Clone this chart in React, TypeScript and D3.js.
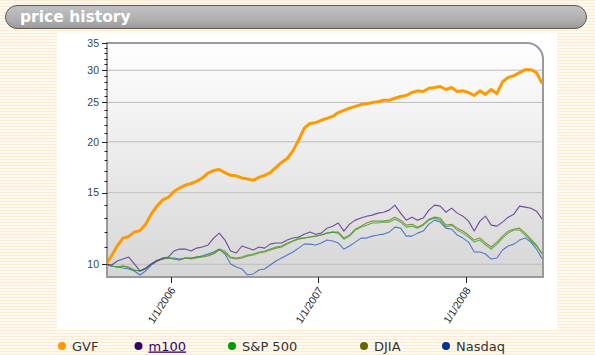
import React from 'react';
import * as d3 from 'd3';

// ---- data (2-week samples starting 2005-07-25) ----
const startDate = new Date(2005, 6, 25);
const stepDays = 14;

const gvf = [10.0, 10.5, 11.1, 11.6, 11.7, 12.0, 12.1, 12.55, 13.3, 13.9,
  14.4, 14.6, 15.1, 15.4, 15.65, 15.8, 16.0, 16.3, 16.75, 17.0,
  17.1, 16.8, 16.55, 16.5, 16.3, 16.2, 16.1, 16.35, 16.55, 16.8,
  17.3, 17.8, 18.2, 19.0, 20.2, 21.6, 22.2, 22.3, 22.6, 22.85,
  23.1, 23.6, 23.9, 24.2, 24.45, 24.7, 24.8, 25.0, 25.1, 25.3,
  25.3, 25.6, 25.85, 26.0, 26.45, 26.7, 26.6, 27.1, 27.2, 27.35,
  26.9, 27.2, 26.6, 26.7, 26.45, 26.0, 26.7, 26.15, 26.9, 26.3,
  28.1, 28.8, 29.1, 29.6, 30.1, 30.1, 29.6, 27.8];

const m100 = [10.0, 9.96, 10.19, 10.30, 10.42, 10.02, 9.63, 9.79, 10.02, 10.19,
  10.36, 10.42, 10.78, 10.90, 10.90, 10.78, 10.96, 11.03, 11.15, 11.60,
  11.93, 11.47, 10.78, 10.66, 11.09, 10.96, 10.84, 11.03, 10.96, 11.21,
  11.28, 11.28, 11.47, 11.60, 11.67, 11.86, 12.00, 11.86, 11.93, 12.27,
  12.41, 12.63, 12.07, 12.55, 12.84, 12.99, 13.13, 13.21, 13.36, 13.43,
  13.59, 13.98, 13.36, 12.84, 13.06, 12.84, 12.99, 13.59, 13.98, 13.90,
  13.43, 13.74, 13.36, 13.13, 12.77, 12.07, 12.77, 13.13, 12.48, 12.41,
  12.70, 13.06, 13.28, 13.90, 13.82, 13.74, 13.51, 12.91];

const sp500 = [10.0, 9.90, 9.85, 9.90, 9.79, 9.68, 9.63, 9.74, 10.02, 10.25,
  10.30, 10.36, 10.30, 10.25, 10.36, 10.36, 10.42, 10.48, 10.54, 10.66,
  10.90, 10.78, 10.42, 10.36, 10.42, 10.54, 10.60, 10.72, 10.78, 10.90,
  11.03, 11.09, 11.28, 11.41, 11.60, 11.60, 11.67, 11.73, 11.80, 11.93,
  12.00, 11.93, 11.53, 11.73, 12.14, 12.34, 12.48, 12.63, 12.63, 12.70,
  12.70, 12.91, 12.70, 12.34, 12.41, 12.27, 12.48, 12.84, 12.99, 12.84,
  12.34, 12.48, 12.14, 11.93, 11.67, 11.34, 11.47, 11.15, 10.90, 11.21,
  11.60, 11.93, 12.14, 12.14, 11.80, 11.41, 11.09, 10.60];

const djia = [10.0, 9.90, 9.85, 9.90, 9.85, 9.68, 9.63, 9.74, 10.02, 10.19,
  10.30, 10.36, 10.30, 10.25, 10.36, 10.30, 10.36, 10.42, 10.48, 10.60,
  10.84, 10.66, 10.36, 10.30, 10.36, 10.48, 10.54, 10.66, 10.72, 10.84,
  10.96, 11.03, 11.21, 11.41, 11.53, 11.60, 11.67, 11.73, 11.80, 11.93,
  12.00, 12.00, 11.60, 11.80, 12.20, 12.41, 12.63, 12.77, 12.77, 12.77,
  12.84, 13.06, 12.84, 12.48, 12.55, 12.34, 12.55, 12.91, 13.06, 12.99,
  12.48, 12.55, 12.27, 12.07, 11.80, 11.47, 11.60, 11.28, 11.03, 11.34,
  11.73, 12.07, 12.20, 12.27, 11.93, 11.53, 11.15, 10.60];

const nasdaq = [10.0, 9.90, 9.85, 9.79, 9.74, 9.63, 9.41, 9.63, 9.96, 10.19,
  10.30, 10.36, 10.36, 10.30, 10.36, 10.36, 10.42, 10.48, 10.60, 10.72,
  10.90, 10.60, 10.02, 9.85, 9.74, 9.41, 9.47, 9.68, 9.74, 9.96,
  10.19, 10.36, 10.54, 10.72, 10.96, 11.21, 11.21, 11.15, 11.28, 11.47,
  11.41, 11.28, 10.90, 11.09, 11.34, 11.60, 11.60, 11.73, 11.80, 11.86,
  12.00, 12.34, 12.27, 11.73, 11.73, 11.93, 12.07, 12.55, 12.84, 12.70,
  12.27, 12.20, 11.80, 11.60, 11.34, 10.72, 10.72, 10.60, 10.30, 10.36,
  10.84, 11.09, 11.21, 11.47, 11.60, 11.34, 10.90, 10.30];

const yMajorTicks = [10, 15, 20, 25, 30, 35];
const yMinorTicks = [11, 12, 13, 14, 16, 17, 18, 19, 21, 22, 23, 24, 26, 27, 28, 29, 31, 32, 33, 34];
const xTickDates = [new Date(2006, 0, 1), new Date(2007, 0, 1), new Date(2008, 0, 1)];
const xTickLabels = ['1/1/2006', '1/1/2007', '1/1/2008'];
const legendNames = ['GVF', 'm100', 'S&P 500', 'DJIA', 'Nasdaq'];
const title = 'price history';

// ---- styles ----
const legendDotColors = ['#ff9900', '#330066', '#009900', '#666600', '#003399'];
const legendX = [62, 138.5, 232, 364, 446];
const seriesList = [
  { values: nasdaq, color: '#3a66c4', width: 1.1, opacity: 0.85 },
  { values: djia, color: '#7f7f26', width: 1.1, opacity: 0.85 },
  { values: sp500, color: '#2ea82e', width: 1.1, opacity: 0.8 },
  { values: m100, color: '#5e2f93', width: 1.1, opacity: 0.85 },
  { values: gvf, color: '#ff9900', width: 3, opacity: 1 },
];

export default function App() {
  const W = 595, H = 355;
  const L = 107, R = 543, T = 43, B = 277, rad = 16;
  const x = d3.scaleTime().domain([new Date(2005, 6, 25), new Date(2008, 6, 9)]).range([106, 543]);
  const y = d3.scaleLog().domain([10, 35]).range([264.3, 43]);
  const dateAt = (i: number) => d3.timeDay.offset(startDate, i * stepDays);
  const line = d3.line<number>().x((d, i) => x(dateAt(i))).y((d) => y(d));
  const plotPath = `M${L},${T} H${R - rad} A${rad},${rad} 0 0 1 ${R},${T + rad} V${B} H${L} Z`;

  return (
    <svg width={W} height={H} style={{ position: 'absolute', left: 0, top: 0 }}
      fontFamily="'DejaVu Sans', Verdana, sans-serif">
      <defs>
        <pattern id="stripes" width="4" height="3" patternUnits="userSpaceOnUse">
          <rect width="4" height="3" fill="#fffaf1" />
          <rect width="4" height="1" fill="#fcebcf" />
        </pattern>
        <linearGradient id="plotGrad" x1="0" y1="0" x2="0" y2="1">
          <stop offset="0" stopColor="#ffffff" />
          <stop offset="1" stopColor="#d6d6d6" />
        </linearGradient>
        <linearGradient id="barGrad" x1="0" y1="0" x2="0" y2="1">
          <stop offset="0" stopColor="#c2c2c2" />
          <stop offset="0.6" stopColor="#b0b0b0" />
          <stop offset="1" stopColor="#9a9a9a" />
        </linearGradient>
        <clipPath id="plotClip">
          <path d={plotPath} />
        </clipPath>
      </defs>

      <rect x={0} y={0} width={W} height={H} fill="url(#stripes)" />
      <rect x={57} y={33} width={500} height={297} fill="#ffffff" />

      {/* title bar */}
      <rect x={5.5} y={5.5} width={581} height={23} rx={11.5} fill="url(#barGrad)" stroke="#5a5a5a" strokeWidth={1} />
      <text x={20} y={22} fill="#ffffff" fontWeight="bold" fontSize={15.5}>{title}</text>

      {/* plot area */}
      <path d={plotPath} fill="url(#plotGrad)" />
      {yMajorTicks.filter((t) => t < 35).map((t) => (
        <line key={'g' + t} x1={L} x2={R} y1={y(t)} y2={y(t)} stroke="#bdbdbd" strokeWidth={1} />
      ))}

      <g clipPath="url(#plotClip)">
        {seriesList.map((s, k) => (
          <path key={k} d={line(s.values) || ''} fill="none" stroke={s.color}
            strokeWidth={s.width} strokeOpacity={s.opacity} strokeLinejoin="round" />
        ))}
      </g>

      <path d={plotPath} fill="none" stroke="#9a9a9a" strokeWidth={2} />

      {/* y axis ticks */}
      {yMinorTicks.map((t) => (
        <line key={'m' + t} x1={104.5} x2={107.5} y1={Math.round(y(t)) + 0.5} y2={Math.round(y(t)) + 0.5} stroke="#222" strokeWidth={1} />
      ))}
      {yMajorTicks.map((t) => (
        <g key={'M' + t}>
          <line x1={102} x2={107.5} y1={Math.round(y(t)) + 0.5} y2={Math.round(y(t)) + 0.5} stroke="#222" strokeWidth={1} />
          <text x={99} y={y(t)} dy="0.36em" textAnchor="end" fontSize={10.5}
            fontFamily="'Liberation Sans', Arial, sans-serif" fill="#2c4a4e">{t}</text>
        </g>
      ))}

      {/* x axis ticks */}
      {xTickDates.map((d, i) => (
        <g key={'x' + i}>
          <line x1={Math.round(x(d)) + 0.5} x2={Math.round(x(d)) + 0.5} y1={277} y2={283} stroke="#222" strokeWidth={1} />
          <text transform={`translate(${x(d) + 2},${288}) rotate(-57)`} textAnchor="end" dy="0.35em"
            fontSize={10.5} fontFamily="'Liberation Sans', Arial, sans-serif" fill="#222">{xTickLabels[i]}</text>
        </g>
      ))}

      {/* legend */}
      {legendNames.map((n, i) => (
        <g key={'l' + i}>
          <circle cx={legendX[i]} cy={346} r={4} fill={legendDotColors[i]} />
          <text x={legendX[i] + 10} y={350.5} fontSize={13} fill={i === 1 ? '#330066' : '#333333'}
            textDecoration={i === 1 ? 'underline' : undefined}>{n}</text>
        </g>
      ))}
    </svg>
  );
}
